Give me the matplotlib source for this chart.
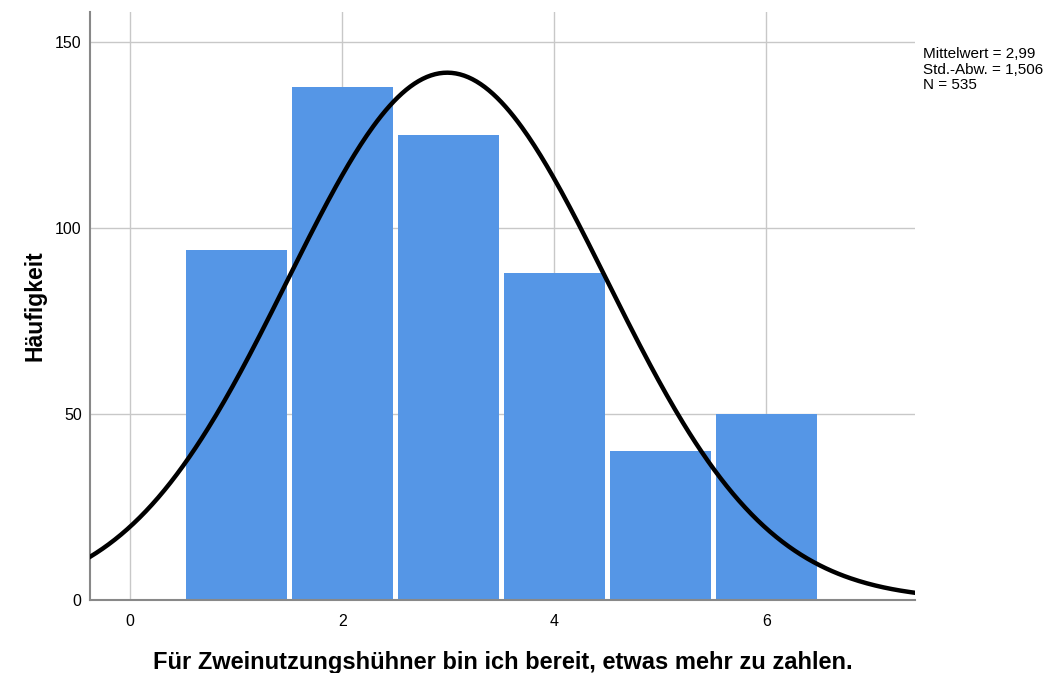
import numpy as np
import matplotlib
matplotlib.use('Agg')
import matplotlib.pyplot as plt

plt.rcParams['font.family'] = ['Liberation Sans', 'DejaVu Sans']

values = [1, 2, 3, 4, 5, 6]
counts = [94, 138, 125, 88, 40, 50]
mean = 2.99
sd = 1.506
n = 535
stats_text = ['Mittelwert = 2,99', 'Std.-Abw. = 1,506', 'N = 535']

fig = plt.figure(figsize=(10.56, 6.73), dpi=100)
ax = fig.add_axes([0.0852, 0.1085, 0.781, 0.8735])

ax.bar(values, counts, width=0.95, color='#5596E6', linewidth=0, zorder=2)

# normal curve scaled to counts (bin width 1)
xs = np.linspace(-0.38, 7.4, 400)
ys = n / (sd * np.sqrt(2 * np.pi)) * np.exp(-0.5 * ((xs - mean) / sd) ** 2)
ax.plot(xs, ys, color='black', linewidth=3.2, zorder=3)

ax.set_xlim(-0.38, 7.4)
ax.set_ylim(0, 158)
ax.set_xticks([0, 2, 4, 6])
ax.set_yticks([0, 50, 100, 150])
ax.grid(True, color='#c8c8c8', linewidth=1, zorder=0)
ax.set_axisbelow(True)
ax.tick_params(axis='x', length=0, labelsize=11.5, pad=10)
ax.tick_params(axis='y', length=0, labelsize=11.5, pad=6)
for s in ['top', 'right']:
    ax.spines[s].set_visible(False)
for s in ['left', 'bottom']:
    ax.spines[s].set_color('#888888')
    ax.spines[s].set_linewidth(1.5)

ax.set_ylabel('Häufigkeit', fontsize=16.5, fontweight='bold', labelpad=6)
ax.set_xlabel('Für Zweinutzungshühner bin ich bereit, etwas mehr zu zahlen.',
              fontsize=17, fontweight='bold', labelpad=16)

fig.text(0.874, 0.93, '\n'.join(stats_text), fontsize=11, va='top',
         ha='left', linespacing=1.15)

fig.savefig('out.png', dpi=100)
